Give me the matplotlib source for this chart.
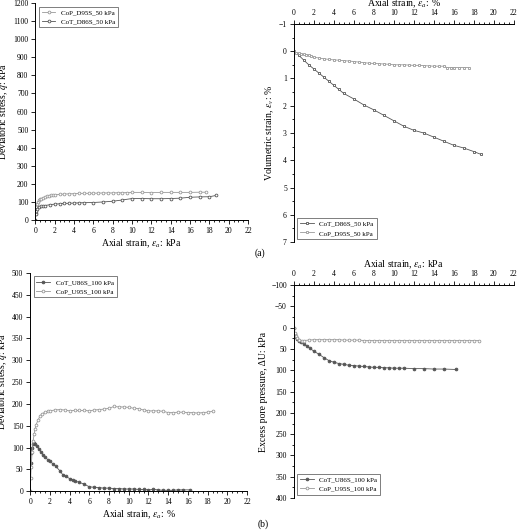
import matplotlib
matplotlib.use("Agg")
import matplotlib.pyplot as plt
from matplotlib.ticker import MultipleLocator

plt.rcParams['font.family'] = ['Liberation Serif', 'DejaVu Serif']
plt.rcParams['mathtext.fontset'] = 'stix'
plt.rcParams['font.size'] = 5.5

# (a) deviatoric stress
a_x95 = [0,0.05,0.1,0.2,0.3,0.4,0.5,0.6,0.8,1.0,1.2,1.4,1.6,1.8,2.0,2.5,3,3.5,4,4.5,5,5.5,6,6.5,7,7.5,8,8.5,9,9.5,10,11,12,13,14,15,16,17,17.7]
a_q95 = [0,40,70,90,100,108,113,117,123,127,131,134,136,138,139,141,143,144,145,146,147,147,148,148,149,149,149,150,150,151,152,152,151,152,152,152,152,153,153]
a_x86 = [0,0.05,0.1,0.2,0.4,0.6,0.8,1,1.5,2,2.5,3,3.5,4,4.5,5,6,7,8,9,10,11,12,13,14,15,16,17,18,18.7]
a_q86 = [0,30,50,62,70,74,77,79,84,87,89,91,92,93,94,95,96,99,103,110,118,118,117,117,118,120,125,127,128,135]
# (a) volumetric strain
v_x86 = [0,0.5,1,1.5,2,2.5,3,3.5,4,4.5,5,6,7,8,9,10,11,12,13,14,15,16,17,18,18.7]
v_e86 = [0,0.15,0.33,0.5,0.65,0.8,0.95,1.1,1.25,1.4,1.55,1.75,1.97,2.15,2.35,2.55,2.75,2.9,3.0,3.15,3.3,3.45,3.55,3.68,3.78]
v_x95 = [0,0.25,0.5,0.75,1,1.25,1.5,1.75,2,2.5,3,3.5,4,4.5,5,5.5,6,6.5,7,7.5,8,8.5,9,9.5,10,10.5,11,11.5,12,12.5,13,13.5,14,14.5,15,15.3,15.7,16,16.5,17,17.5]
v_e95 = [0,0.05,0.08,0.1,0.12,0.13,0.15,0.18,0.22,0.25,0.28,0.3,0.32,0.33,0.35,0.36,0.38,0.4,0.42,0.44,0.45,0.46,0.47,0.48,0.5,0.5,0.5,0.51,0.52,0.52,0.53,0.54,0.55,0.55,0.55,0.6,0.6,0.6,0.6,0.6,0.6]
# (b) deviatoric stress
b_x86 = [0,0.05,0.1,0.2,0.3,0.4,0.5,0.7,0.9,1.1,1.3,1.5,1.8,2,2.3,2.6,3,3.3,3.6,4,4.3,4.6,5,5.5,6,6.5,7,7.5,8,8.5,9,9.5,10,10.5,11,11.5,12,12.5,13,13.5,14,14.5,15,15.5,16.2]
b_q86 = [0,65,88,100,107,110,108,103,96,90,84,78,72,68,63,57,47,38,34,29,26,23,20,16,10,9,8,7,7,6,6,5,5,5,4,4,3,4,3,2,2,2,3,3,3]
b_x95 = [0,0.05,0.1,0.2,0.3,0.4,0.5,0.6,0.8,1,1.2,1.5,1.8,2,2.5,3,3.5,4,4.5,5,5.5,6,6.5,7,7.5,8,8.5,9,9.5,10,10.5,11,11.5,12,12.5,13,13.5,14,14.5,15,15.5,16,16.5,17,17.5,18,18.5]
b_q95 = [0,30,55,90,115,130,143,152,163,172,177,181,183,184,186,187,186,184,185,185,185,184,186,187,188,190,194,193,193,192,190,189,186,184,184,184,183,180,180,181,181,180,180,179,180,181,183]
# (b) excess pore pressure
u_x86 = [0,0.1,0.2,0.3,0.5,0.7,1,1.3,1.6,2,2.5,3,3.5,4,4.5,5,5.5,6,6.5,7,7.5,8,8.5,9,9.5,10,10.5,11,12,13,14,15,16.2]
u_u86 = [0,15,22,26,30,33,38,43,48,55,62,70,77,81,84,86,88,89,90,91,92,93,93,94,94,95,95,95,96,96,97,97,98]
u_x95 = [0,0.1,0.2,0.3,0.5,0.8,1,1.5,2,2.5,3,3.5,4,4.5,5,5.5,6,6.5,7,7.5,8,8.5,9,9.5,10,10.5,11,11.5,12,12.5,13,13.5,14,14.5,15,15.5,16,16.5,17,17.5,18,18.5]
u_u95 = [0,12,20,25,28,30,30,29,28,28,28,28,28,28,29,29,29,29,30,30,30,30,30,30,30,30,30,30,30,30,30,30,30,30,30,30,30,30,30,30,30,30]

fig = plt.figure(figsize=(5.2, 5.31), dpi=100)
c1, c2 = '#555555', '#999999'
ms = 2.0
lab = 7

def style(ax, top=False):
    for s in ['right'] + (['bottom'] if top else ['top']):
        ax.spines[s].set_visible(False)
    if top:
        ax.xaxis.tick_top(); ax.xaxis.set_label_position('top')
    ax.set_xlim(0, 22)
    ax.xaxis.set_major_locator(MultipleLocator(2))
    ax.xaxis.set_minor_locator(MultipleLocator(0.5))
    ax.tick_params(which='both', width=0.6, labelsize=5.5, pad=2)
    ax.tick_params(which='major', length=3)
    ax.tick_params(which='minor', length=1.5)
    ax.xaxis.labelpad = 2
    ax.yaxis.labelpad = 2
    for s in ax.spines.values():
        s.set_linewidth(0.7)

def leg(ax, loc):
    l = ax.legend(loc=loc, fontsize=5, frameon=True, fancybox=False, edgecolor='#444444')
    l.get_frame().set_linewidth(0.6)

ax1 = fig.add_axes([0.068, 0.586, 0.409, 0.408])
ax1.plot(a_x95, a_q95, '-o', color=c2, ms=ms, mfc='white', lw=0.6, mew=0.6, label='CoP_D95S_50 kPa')
ax1.plot(a_x86, a_q86, '-o', color=c1, ms=ms, mfc='white', lw=0.6, mew=0.6, label='CoT_D86S_50 kPa')
style(ax1); ax1.set_ylim(0, 1200); ax1.yaxis.set_major_locator(MultipleLocator(100))
ax1.set_xlabel('Axial strain, $\\varepsilon_a$: kPa', fontsize=lab)
ax1.set_ylabel('Deviatoric stress, $q$: kPa', fontsize=lab)
leg(ax1, 'upper left')

ax2 = fig.add_axes([0.565, 0.544, 0.423, 0.411])
ax2.plot(v_x86, v_e86, '-s', color=c1, ms=ms, mfc='white', lw=0.6, mew=0.6, label='CoT_D86S_50 kPa')
ax2.plot(v_x95, v_e95, '-s', color=c2, ms=ms, mfc='white', lw=0.6, mew=0.6, label='CoP_D95S_50 kPa')
style(ax2, top=True); ax2.set_ylim(7, -1); ax2.yaxis.set_minor_locator(MultipleLocator(0.5))
ax2.set_xlabel('Axial strain, $\\varepsilon_a$: %', fontsize=lab)
ax2.set_ylabel('Volumetric strain, $\\varepsilon_v$: %', fontsize=lab)
leg(ax2, 'lower left')

ax3 = fig.add_axes([0.058, 0.075, 0.417, 0.411])
ax3.plot(b_x86, b_q86, '-o', color=c1, ms=ms, mfc=c1, lw=0.6, mew=0.6, label='CoT_U86S_100 kPa')
ax3.plot(b_x95, b_q95, '-o', color=c2, ms=ms, mfc='white', lw=0.6, mew=0.6, label='CoP_U95S_100 kPa')
style(ax3); ax3.set_ylim(0, 500); ax3.yaxis.set_major_locator(MultipleLocator(50))
ax3.set_xlabel('Axial strain, $\\varepsilon_a$: %', fontsize=lab)
ax3.set_ylabel('Deviatoric stress, $q$: kPa', fontsize=lab)
leg(ax3, 'upper left')

ax4 = fig.add_axes([0.565, 0.062, 0.423, 0.401])
ax4.plot(u_x86, u_u86, '-o', color=c1, ms=ms, mfc=c1, lw=0.6, mew=0.6, label='CoT_U86S_100 kPa')
ax4.plot(u_x95, u_u95, '-o', color=c2, ms=ms, mfc='white', lw=0.6, mew=0.6, label='CoP_U95S_100 kPa')
style(ax4, top=True); ax4.set_ylim(400, -100); ax4.yaxis.set_major_locator(MultipleLocator(50))
ax4.yaxis.set_minor_locator(MultipleLocator(25))
ax4.set_xlabel('Axial strain, $\\varepsilon_a$: kPa', fontsize=lab)
ax4.set_ylabel('Excess pore pressure, ΔU: kPa', fontsize=lab)
leg(ax4, 'lower left')

fig.text(0.49, 0.523, '(a)', fontsize=7, ha='left', va='center')
fig.text(0.495, 0.012, '(b)', fontsize=7, ha='left', va='center')
fig.savefig('out.png', dpi=100)
